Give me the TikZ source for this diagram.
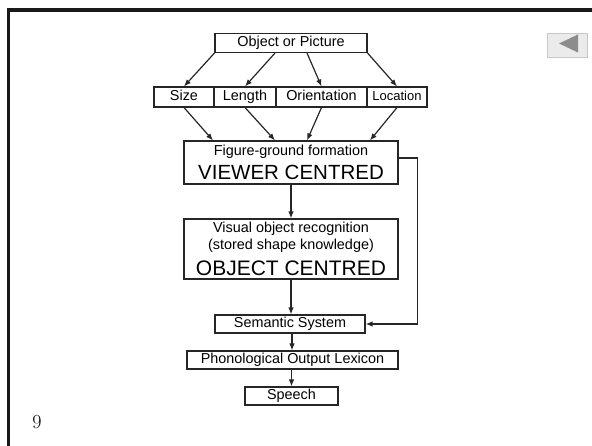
\documentclass[tikz,border=0pt]{standalone}
\usepackage{fontspec}
\usepackage{tikz}
\usetikzlibrary{arrows.meta}
\newfontfamily\diagfont{Liberation Sans}

\begin{document}
\begin{tikzpicture}[x=1pt,y=-1pt]
    \tikzset{
    box/.style={draw=black!85,line width=1.1pt,inner sep=0pt,align=center,
      font=\diagfont\fontsize{14.4}{17}\selectfont},
    one/.style={box,text height=10.5pt,text depth=3pt},
    arr/.style={-{Latex[length=7pt,width=5.5pt]},line width=1.2pt,black!85},
    }
    \useasboundingbox (0,0) rectangle (592,446);
    % slide frame
    \draw[line width=3.2pt,black!90] (8.5,446) -- (8.5,10) -- (592,10);
    \draw[fill=black!8,draw=black!22] (547,33) rectangle (587,57);
    \fill[black!45] (559,43.5) -- (578,34.5) -- (578,52.5) -- cycle;
    \node (num) at (37,422) {\fontsize{20}{24}\selectfont 9};

    \node[one,minimum width=152pt,minimum height=19pt] (obj) at (291,43) {Object or Picture};
    \node[one,minimum width=60pt,minimum height=20pt] (size) at (184,97) {Size};
    \node[one,minimum width=62pt,minimum height=20pt] (length) at (245,97) {Length};
    \node[one,minimum width=91pt,minimum height=20pt] (orient) at (321.5,97) {Orientation};
    \node[one,minimum width=60pt,minimum height=20pt,font=\diagfont\fontsize{13}{15}\selectfont] (loc) at (397,97) {Location};
    \node[box,minimum width=214pt,minimum height=43pt] (fig) at (291,162.5)
      {Figure-ground formation\\[5pt]{\fontsize{20.5}{24}\selectfont VIEWER CENTRED}};
    \node[box,minimum width=214pt,minimum height=60pt] (vis) at (291,249)
      {Visual object recognition\\(stored shape knowledge)\\[7pt]{\fontsize{21}{24}\selectfont OBJECT CENTRED}};
    \node[one,minimum width=150pt,minimum height=18pt] (sem) at (290,324) {Semantic System};
    \node[one,minimum width=211pt,minimum height=18pt] (phon) at (292.5,360) {Phonological Output Lexicon};
    \node[one,minimum width=93pt,minimum height=18pt] (speech) at (291.5,396) {Speech};

    \draw[arr] (obj.south west) -- (size.north);
    \draw[arr] ([xshift=-16pt]obj.south) -- (length.north);
    \draw[arr] ([xshift=16pt]obj.south) -- (orient.north);
    \draw[arr] (obj.south east) -- (loc.north);
    \draw[arr] (size.south) -- ([xshift=-78pt]fig.north);
    \draw[arr] (length.south) -- ([xshift=-16pt]fig.north);
    \draw[arr] (orient.south) -- ([xshift=16pt]fig.north);
    \draw[arr] (loc.south) -- ([xshift=79pt]fig.north);
    \draw[arr] (fig.south) -- (vis.north);
    \draw[arr] ([yshift=4.5pt]fig.east) -- ++(19,0) |- (sem.east);
    \draw[arr] (vis.south) -- (vis.south |- sem.north);
    \draw[arr] ([xshift=2pt]sem.south) -- ([xshift=2pt]sem.south |- phon.north);
    \draw[arr] (phon.south -| speech.north) -- (speech.north);
\end{tikzpicture}
\end{document}
